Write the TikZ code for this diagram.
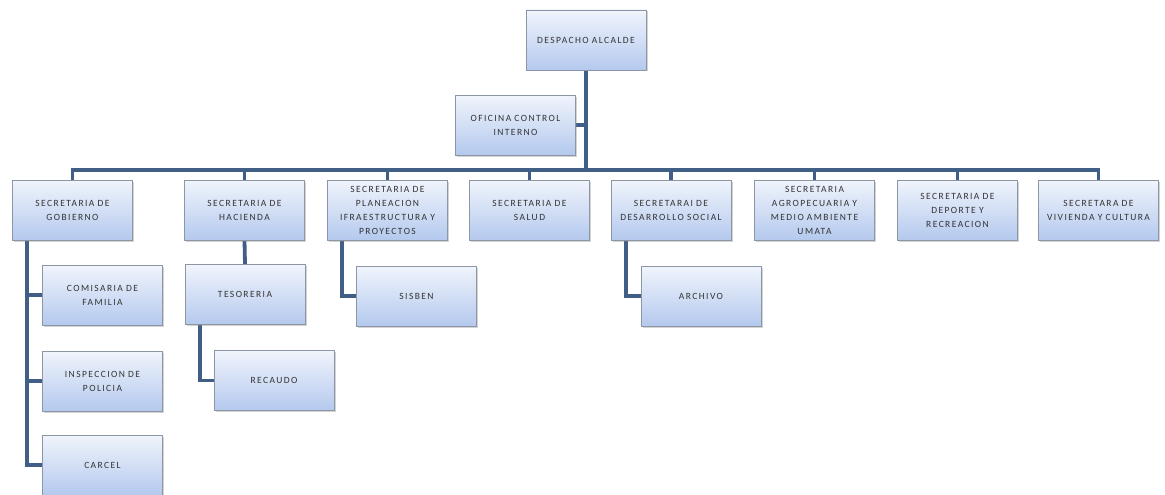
\documentclass[tikz,border=0pt]{standalone}
\usepackage{fontspec}
\setmainfont{Carlito}[LetterSpace=15]
\usetikzlibrary{shadows,backgrounds}
\definecolor{linec}{HTML}{405E86}
\definecolor{boxtop}{HTML}{F0F4FC}
\definecolor{boxbot}{HTML}{B4C9EE}
\definecolor{boxedge}{HTML}{8C96A4}
\tikzset{
  orgbox/.style={rectangle, draw=boxedge, line width=0.8pt,
    top color=boxtop, bottom color=boxbot,
    minimum width=118pt, minimum height=60pt, inner sep=1pt,
    text width=118pt, align=center,
    font=\fontsize{9.5}{14}\selectfont, text=black!80,
    drop shadow={opacity=0.35, shadow xshift=1.5pt, shadow yshift=-1.5pt}},
  link/.style={draw=linec, line width=3.8pt}
}
\begin{document}
\begin{tikzpicture}[x=1pt,y=-1pt]
\useasboundingbox (0,0) rectangle (1165,495);
\node[orgbox] (desp) at (586,40) {DESPACHO ALCALDE};
\node[orgbox, minimum width=117pt] (ofi) at (515.5,125) {OFICINA CONTROL\\INTERNO};
\node[orgbox] (gob) at (72.5,210) {SECRETARIA DE\\GOBIERNO};
\node[orgbox] (hac) at (244.5,210) {SECRETARIA DE\\HACIENDA};
\node[orgbox] (pla) at (387.5,210) {SECRETARIA DE\\PLANEACION\\IFRAESTRUCTURA Y\\PROYECTOS};
\node[orgbox] (sal) at (529.5,210) {SECRETARIA DE\\SALUD};
\node[orgbox] (des) at (671,210) {SECRETARAI DE\\DESARROLLO SOCIAL};
\node[orgbox] (agr) at (814.5,210) {SECRETARIA\\AGROPECUARIA Y\\MEDIO AMBIENTE\\UMATA};
\node[orgbox] (dep) at (957.5,210) {SECRETARIA DE\\DEPORTE Y\\RECREACION};
\node[orgbox] (viv) at (1098.5,210) {SECRETARA DE\\VIVIENDA Y CULTURA};
\node[orgbox] (com) at (102.5,295) {COMISARIA DE\\FAMILIA};
\node[orgbox] (ins) at (102.5,381) {INSPECCION DE\\POLICIA};
\node[orgbox] (car) at (102.5,465) {CARCEL};
\node[orgbox] (tes) at (245,294.5) {TESORERIA};
\node[orgbox] (rec) at (274,380.5) {RECAUDO};
\node[orgbox, minimum width=117pt] (sis) at (416.5,296) {SISBEN};
\node[orgbox, minimum width=116pt] (arc) at (701,296) {ARCHIVO};
\coordinate (barL) at (72.5,170);
\coordinate (barR) at (1098.5,170);
\coordinate (gv) at (27,240);
\coordinate (tv) at (200,324);
\coordinate (pv) at (342,240);
\coordinate (dv) at (626,240);
\begin{scope}[on background layer]
\draw[link] (desp.south) -- (desp.south |- barL);
\draw[link] (ofi.east) -- (ofi.east -| desp.south);
\draw[link, line cap=rect] (barL) -- (barR);
\foreach \n in {gob,hac,pla,sal,des,agr,dep,viv}
  \draw[link] (\n.north) -- (\n.north |- barL);
\draw[link] (gv) -- (gv |- car.west) -- (car.west);
\draw[link] (gv |- com.west) -- (com.west);
\draw[link] (gv |- ins.west) -- (ins.west);
\draw[link] (hac.south) -- (tes.north);
\draw[link] (tv) -- (tv |- rec.west) -- (rec.west);
\draw[link] (pv) -- (pv |- sis.west) -- (sis.west);
\draw[link] (dv) -- (dv |- arc.west) -- (arc.west);
\end{scope}
\end{tikzpicture}
\end{document}
